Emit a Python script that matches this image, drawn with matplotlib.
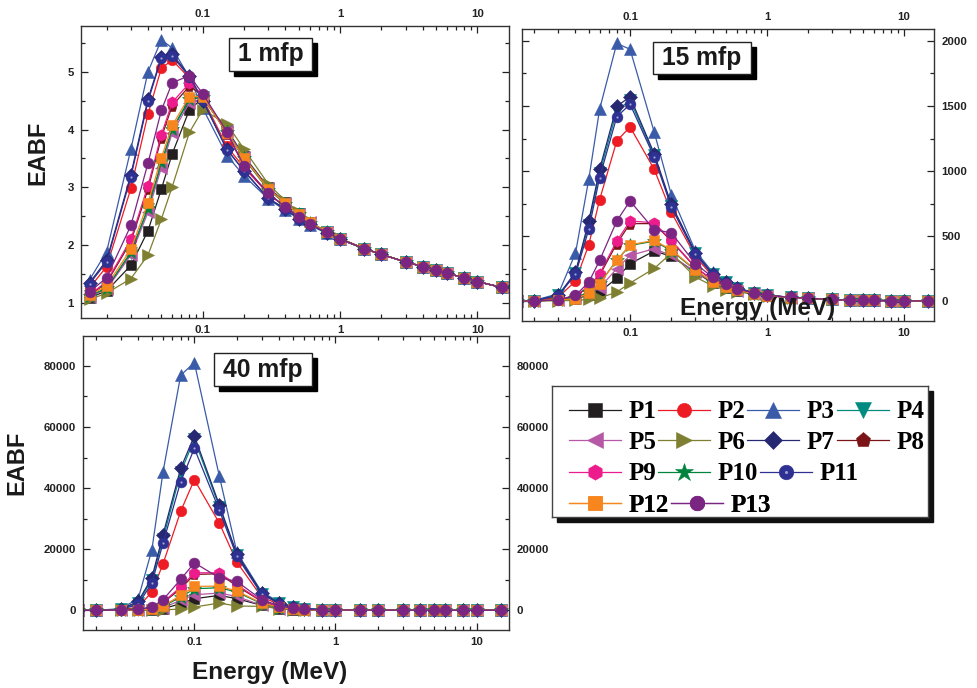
#EABF vs photon energy for 13 samples at 1, 15 and 40 mfp
import matplotlib
matplotlib.use("Agg")
import matplotlib.pyplot as plt
from matplotlib.patches import Rectangle
from matplotlib.ticker import MultipleLocator, LogLocator, FixedLocator

plt.rcParams['font.family'] = ['Liberation Sans', 'DejaVu Sans']
plt.rcParams['font.weight'] = 'bold'

#data
energy = [0.015, 0.02, 0.03, 0.04, 0.05, 0.06, 0.08, 0.1, 0.15, 0.2, 0.3, 0.4, 0.5,
          0.6, 0.8, 1, 1.5, 2, 3, 4, 5, 6, 8, 10, 15]
samples = ["P1", "P2", "P3", "P4", "P5", "P6", "P7", "P8", "P9", "P10", "P11", "P12", "P13"]

#1 mfp, one row per sample
eabf_1mfp = [
    [1.09, 1.21, 1.65, 2.25, 2.97, 3.58, 4.34, 4.54, 4.00, 3.54, 3.00, 2.74, 2.55, 2.40, 2.23, 2.11, 1.94, 1.84, 1.71, 1.63, 1.57, 1.51, 1.44, 1.37, 1.27],
    [1.26, 1.63, 2.98, 4.27, 5.06, 5.20, 4.89, 4.54, 3.71, 3.34, 2.89, 2.66, 2.49, 2.37, 2.22, 2.11, 1.94, 1.84, 1.71, 1.63, 1.57, 1.51, 1.44, 1.37, 1.27],
    [1.40, 1.89, 3.66, 5.00, 5.55, 5.41, 4.90, 4.37, 3.55, 3.20, 2.80, 2.60, 2.46, 2.34, 2.21, 2.10, 1.94, 1.84, 1.71, 1.63, 1.57, 1.51, 1.44, 1.37, 1.27],
    [1.12, 1.25, 1.86, 2.63, 3.40, 3.99, 4.51, 4.56, 3.96, 3.50, 2.97, 2.72, 2.53, 2.39, 2.22, 2.11, 1.94, 1.84, 1.71, 1.63, 1.57, 1.51, 1.44, 1.37, 1.27],
    [1.11, 1.24, 1.83, 2.57, 3.34, 3.94, 4.46, 4.54, 3.98, 3.52, 2.98, 2.73, 2.54, 2.40, 2.22, 2.11, 1.94, 1.84, 1.71, 1.63, 1.57, 1.51, 1.44, 1.37, 1.27],
    [1.06, 1.17, 1.42, 1.83, 2.45, 3.01, 3.95, 4.34, 4.10, 3.66, 3.06, 2.77, 2.57, 2.41, 2.23, 2.12, 1.94, 1.84, 1.71, 1.63, 1.57, 1.51, 1.44, 1.37, 1.27],
    [1.35, 1.74, 3.22, 4.53, 5.25, 5.30, 4.93, 4.50, 3.66, 3.28, 2.81, 2.62, 2.46, 2.37, 2.21, 2.10, 1.94, 1.84, 1.71, 1.63, 1.57, 1.51, 1.44, 1.37, 1.27],
    [1.13, 1.35, 2.06, 2.97, 3.86, 4.41, 4.75, 4.59, 3.93, 3.37, 2.89, 2.66, 2.49, 2.37, 2.22, 2.11, 1.94, 1.84, 1.71, 1.63, 1.57, 1.51, 1.44, 1.37, 1.27],
    [1.14, 1.37, 2.10, 3.03, 3.91, 4.47, 4.80, 4.60, 3.94, 3.37, 2.89, 2.66, 2.49, 2.37, 2.22, 2.11, 1.94, 1.84, 1.71, 1.63, 1.57, 1.51, 1.44, 1.37, 1.27],
    [1.12, 1.26, 1.88, 2.64, 3.43, 4.01, 4.53, 4.56, 3.95, 3.50, 2.96, 2.72, 2.53, 2.39, 2.22, 2.11, 1.94, 1.84, 1.71, 1.63, 1.57, 1.51, 1.44, 1.37, 1.27],
    [1.33, 1.71, 3.18, 4.49, 5.23, 5.27, 4.91, 4.51, 3.65, 3.29, 2.81, 2.63, 2.46, 2.37, 2.21, 2.10, 1.94, 1.84, 1.71, 1.63, 1.57, 1.51, 1.44, 1.37, 1.27],
    [1.13, 1.30, 1.93, 2.73, 3.51, 4.07, 4.57, 4.57, 3.94, 3.51, 2.97, 2.73, 2.53, 2.40, 2.22, 2.11, 1.94, 1.84, 1.71, 1.63, 1.57, 1.51, 1.44, 1.37, 1.27],
    [1.19, 1.44, 2.34, 3.42, 4.33, 4.81, 4.93, 4.62, 3.96, 3.37, 2.90, 2.66, 2.49, 2.37, 2.22, 2.11, 1.94, 1.84, 1.71, 1.63, 1.57, 1.51, 1.44, 1.37, 1.27],
]

#15 mfp
eabf_15mfp = [
    [2, 4, 12, 22, 46, 72, 179, 289, 387, 346, 225, 141, 100, 78, 58, 44, 30, 24, 15, 11, 9, 8, 6, 5, 4],
    [2, 5, 33, 156, 435, 781, 1231, 1339, 1014, 684, 346, 192, 136, 97, 64, 46, 31, 25, 15, 11, 9, 8, 6, 5, 4],
    [3, 8, 59, 371, 937, 1475, 1979, 1935, 1300, 819, 387, 225, 154, 110, 64, 46, 33, 26, 15, 11, 9, 8, 6, 5, 4],
    [3, 7, 50, 215, 590, 985, 1460, 1545, 1120, 735, 368, 210, 146, 104, 64, 46, 32, 25, 15, 11, 9, 8, 6, 5, 4],
    [2, 4, 12, 28, 54, 105, 251, 353, 404, 353, 225, 150, 110, 82, 60, 45, 30, 24, 15, 11, 9, 8, 6, 5, 4],
    [2, 3, 5, 8, 15, 26, 72, 141, 253, 370, 187, 120, 90, 75, 56, 43, 30, 24, 15, 11, 9, 8, 6, 5, 4],
    [3, 7, 46, 225, 617, 1014, 1498, 1569, 1134, 745, 374, 212, 148, 105, 64, 46, 32, 25, 15, 11, 9, 8, 6, 5, 4],
    [2, 4, 15, 40, 110, 200, 443, 597, 597, 463, 260, 165, 118, 90, 62, 45, 31, 24, 15, 11, 9, 8, 6, 5, 4],
    [2, 4, 16, 45, 115, 212, 463, 617, 604, 468, 264, 166, 120, 92, 62, 45, 31, 24, 15, 11, 9, 8, 6, 5, 4],
    [2, 4, 13, 30, 70, 140, 315, 430, 462, 390, 240, 148, 108, 85, 60, 45, 30, 24, 15, 11, 9, 8, 6, 5, 4],
    [3, 7, 45, 207, 553, 950, 1416, 1513, 1108, 724, 361, 207, 145, 104, 64, 46, 32, 25, 15, 11, 9, 8, 6, 5, 4],
    [2, 4, 12, 20, 64, 136, 315, 435, 468, 397, 243, 148, 108, 85, 60, 45, 30, 24, 15, 11, 9, 8, 6, 5, 4],
    [2, 5, 10, 46, 148, 315, 617, 771, 550, 527, 289, 187, 131, 97, 64, 46, 31, 25, 15, 11, 9, 8, 6, 5, 4],
]

#40 mfp
eabf_40mfp = [
    [0, 0, 5, 30, 150, 544, 2177, 3810, 4898, 3810, 1633, 500, 220, 120, 80, 60, 40, 30, 20, 15, 12, 10, 8, 6, 5],
    [0, 0, 100, 1088, 5986, 15238, 32434, 42774, 28625, 15782, 4354, 1959, 900, 450, 200, 120, 60, 40, 25, 18, 14, 12, 9, 7, 5],
    [0, 0, 544, 3810, 19810, 45386, 76950, 81086, 44080, 19047, 5986, 2721, 1306, 653, 218, 109, 60, 40, 25, 18, 14, 12, 9, 7, 5],
    [0, 0, 300, 2500, 10000, 23400, 45170, 56050, 33960, 18176, 5500, 2300, 1050, 520, 200, 110, 60, 40, 25, 18, 14, 12, 9, 7, 5],
    [0, 0, 5, 40, 200, 900, 3265, 5115, 5660, 4571, 1633, 600, 280, 150, 90, 60, 40, 30, 20, 15, 12, 10, 8, 6, 5],
    [0, 0, 2, 10, 50, 150, 435, 1088, 2394, 1415, 1306, 544, 250, 130, 80, 60, 40, 30, 20, 15, 12, 10, 8, 6, 5],
    [0, 0, 350, 2939, 10666, 24816, 46475, 57141, 34611, 18503, 5660, 2394, 1088, 540, 200, 110, 60, 40, 25, 18, 14, 12, 9, 7, 5],
    [0, 0, 15, 150, 800, 2500, 7075, 11755, 11972, 7945, 2900, 1200, 550, 280, 130, 80, 50, 35, 22, 16, 13, 11, 8, 6, 5],
    [0, 0, 20, 180, 900, 2721, 7619, 12299, 12299, 8381, 3047, 1300, 600, 300, 140, 85, 50, 35, 22, 16, 13, 11, 8, 6, 5],
    [0, 0, 10, 90, 450, 1300, 4354, 7075, 7401, 5986, 2200, 900, 400, 200, 100, 70, 45, 32, 21, 15, 12, 10, 8, 6, 5],
    [0, 0, 250, 1959, 8925, 21986, 42121, 53005, 32870, 17632, 5224, 2177, 1000, 500, 190, 105, 60, 40, 25, 18, 14, 12, 9, 7, 5],
    [0, 0, 10, 100, 500, 1415, 4898, 7836, 7945, 6313, 2394, 950, 420, 210, 100, 70, 45, 32, 21, 15, 12, 10, 8, 6, 5],
    [0, 0, 30, 300, 1088, 3483, 10122, 15564, 10666, 9469, 3483, 1524, 700, 350, 150, 90, 55, 38, 23, 17, 13, 11, 8, 6, 5],
]

colors = ["#231f20", "#ed1c24", "#3a5ba8", "#008a80", "#b658a5", "#7f7f32", "#262872",
          "#7b1416", "#ec1c8c", "#00843d", "#2e3192", "#f7861e", "#7b2583"]
markers = ["s", "o", "^", "v", "<", ">", "D", "p", "h", "*", "o", "s", "o"]
msizes = [7.0, 7.6, 8.4, 8.4, 8.4, 8.4, 6.8, 8.2, 8.2, 10.0, 7.8, 7.0, 7.8]

W, H = 977, 688
fig = plt.figure(figsize=(W / 100, H / 100), dpi=100)


#axes placed from pixel box (left, top, right, bottom)
def px_axes(l, t, r, b):
    return fig.add_axes([l / W, 1 - b / H, (r - l) / W, (b - t) / H])


def style_axes(ax, left, right, top, bottom):
    ax.set_xscale("log")
    ax.xaxis.set_major_locator(FixedLocator([0.1, 1, 10]))
    ax.xaxis.set_minor_locator(LogLocator(base=10, subs=range(2, 10), numticks=20))
    ax.xaxis.set_major_formatter(plt.FuncFormatter(lambda v, p: "%g" % v))
    ax.tick_params(which="both", direction="in", top=True, right=True,
                   labelleft=left, labelright=right, labeltop=top, labelbottom=bottom,
                   labelsize=8.2, width=0.9, colors="#222222", pad=5)
    ax.tick_params(which="major", length=5)
    ax.tick_params(which="minor", length=3)
    for s in ax.spines.values():
        s.set_linewidth(1.0)
        s.set_color("#333333")


def draw_series(ax, data):
    handles = []
    for i in range(len(samples)):
        ln, = ax.plot(energy, data[i], color=colors[i], marker=markers[i], ms=msizes[i],
                      mec=colors[i], mew=0.4, lw=0.9, label=samples[i], clip_on=True)
        if samples[i] == "P11":
            #little shine on the P11 balls
            hl, = ax.plot(energy, data[i], ls="none", marker="o", ms=1.6, color="#9ea3d6", mew=0)
            handles.append((ln, hl))
        else:
            handles.append(ln)
    return handles


def label_box(l, t, r, b, txt):
    fig.add_artist(Rectangle(((l + 5) / W, 1 - (b + 5) / H), (r - l) / W, (b - t) / H,
                             transform=fig.transFigure, fc="black", ec="black", zorder=10))
    fig.add_artist(Rectangle((l / W, 1 - b / H), (r - l) / W, (b - t) / H,
                             transform=fig.transFigure, fc="white", ec="#222222", lw=1.0, zorder=11))
    fig.text((l + r) / 2 / W, 1 - (t + b) / 2 / H, txt, ha="center", va="center",
             fontsize=17.7, fontweight="bold", color="#1a1a1a", zorder=12)


#1 mfp
ax1 = px_axes(81, 26, 509, 318)
handles = draw_series(ax1, eabf_1mfp)
style_axes(ax1, True, False, True, True)
ax1.set_xlim(0.013, 17)
ax1.set_ylim(0.74, 5.79)
ax1.yaxis.set_major_locator(MultipleLocator(1))
ax1.yaxis.set_minor_locator(MultipleLocator(0.5))

#15 mfp
ax2 = px_axes(521.7, 29, 934.3, 321)
draw_series(ax2, eabf_15mfp)
style_axes(ax2, False, True, True, True)
ax2.set_xlim(0.0162, 16.6)
ax2.set_ylim(-150, 2090)
ax2.yaxis.set_major_locator(MultipleLocator(500))
ax2.yaxis.set_minor_locator(MultipleLocator(250))

#40 mfp
ax3 = px_axes(82.8, 336, 509.5, 629.6)
draw_series(ax3, eabf_40mfp)
style_axes(ax3, True, True, False, True)
ax3.set_xlim(0.0162, 17.1)
ax3.set_ylim(-6300, 89800)
ax3.yaxis.set_major_locator(MultipleLocator(20000))
ax3.yaxis.set_minor_locator(MultipleLocator(10000))

label_box(229, 38, 311.7, 70.7, "1 mfp")
label_box(653.3, 41.7, 750.7, 74, "15 mfp")
label_box(213.6, 353, 311.8, 386, "40 mfp")

#axis titles
fig.text(38 / W, 1 - 153 / H, "EABF", rotation=90, ha="center", va="center", fontsize=17, color="#1a1a1a")
fig.text(17 / W, 1 - 463 / H, "EABF", rotation=90, ha="center", va="center", fontsize=17, color="#1a1a1a")
fig.text(270 / W, 1 - 673 / H, "Energy (MeV)", ha="center", va="center", fontsize=17.5, color="#1a1a1a")
fig.text(758 / W, 1 - 308 / H, "Energy (MeV)", ha="center", va="center", fontsize=17.5, color="#1a1a1a", zorder=20)

#legend box with shadow, rows laid out like the original
lx0, ly0, lx1, ly1 = 551.7, 385.7, 927.7, 517
fig.add_artist(Rectangle(((lx0 + 5) / W, 1 - (ly1 + 5) / H), (lx1 - lx0) / W, (ly1 - ly0) / H,
                         transform=fig.transFigure, fc="#111111", ec="#111111", zorder=1))
lax = px_axes(lx0, ly0, lx1, ly1)
lax.set_xticks([])
lax.set_yticks([])
for s in lax.spines.values():
    s.set_color("#444444")
    s.set_linewidth(1.0)
lax.set_zorder(2)

rows = [[0, 1, 2, 3], [4, 5, 6, 7], [8, 9, 10], [11, 12]]
row_y = [0.80, 0.568, 0.328, 0.091]
leg_font = {"family": ["Liberation Serif", "DejaVu Serif"], "weight": "bold", "size": 18}
for idx, yy in zip(rows, row_y):
    leg = lax.legend([handles[i] for i in idx], [samples[i] for i in idx], ncol=len(idx),
                     loc="center left", bbox_to_anchor=(17 / 376, yy), frameon=False,
                     borderpad=0, borderaxespad=0, handlelength=2.08, handletextpad=0.3,
                     columnspacing=0.08, markerscale=1.35, prop=leg_font)
    lax.add_artist(leg)

fig.savefig("out.png", dpi=100)
